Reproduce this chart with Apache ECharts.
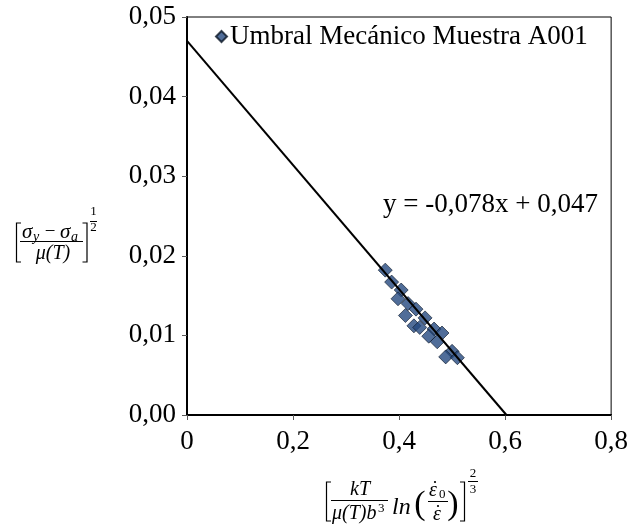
<!DOCTYPE html>
<html>
<head>
<meta charset="utf-8">
<script src="https://cdn.jsdelivr.net/npm/echarts@6/dist/echarts.min.js"></script>
<style>
  html, body { margin: 0; padding: 0; background: #fff; }
  #chart { width: 631px; height: 527px; }
</style>
</head>
<body>
<div id="chart"></div>
<script>
// Measured threshold points for sample A001
const xValues = [0.374, 0.386, 0.404, 0.398, 0.417, 0.432, 0.412, 0.449, 0.428,
                 0.439, 0.466, 0.481, 0.456, 0.472, 0.500, 0.488, 0.510];
const yValues = [0.0182, 0.0167, 0.0157, 0.0146, 0.0140, 0.0133, 0.0125, 0.0122, 0.0112,
                 0.0110, 0.0108, 0.0103, 0.0099, 0.0092, 0.0080, 0.0073, 0.0072];

// Linear fit y = slope * x + intercept
const slope = -0.078;
const intercept = 0.047;

const seriesName = 'Umbral Mecánico Muestra A001';
const xTicks = [0, 0.2, 0.4, 0.6, 0.8];
const yTicks = [0, 0.01, 0.02, 0.03, 0.04, 0.05];

const SERIF = '"Liberation Serif", "Times New Roman", serif';
const MATH = '"Liberation Serif", "DejaVu Serif", serif';

const points = xValues.map((x, i) => [x, yValues[i]]);
const fitLine = [[0, intercept], [-intercept / slope, 0]];

const fmtDec = (v, d) => v.toFixed(d).replace('.', ',');
const eqText = 'y = ' + fmtDec(slope, 3) + 'x + ' + fmtDec(intercept, 3);

// small helpers for the formula titles
function txt(x, y, s, size, italic, align) {
  return {
    type: 'text', x: x, y: y, silent: true,
    style: {
      text: s, fill: '#000', fontFamily: MATH, fontSize: size,
      fontStyle: italic ? 'italic' : 'normal',
      align: align || 'center', verticalAlign: 'middle'
    }
  };
}
function rule(x1, y, x2) {
  return { type: 'line', silent: true, shape: { x1: x1, y1: y, x2: x2, y2: y }, style: { stroke: '#000', lineWidth: 1 } };
}
function dot(x, y) {
  return { type: 'circle', silent: true, shape: { cx: x, cy: y, r: 1.1 }, style: { fill: '#000' } };
}
function bracket(xEdge, xInner, top, bottom) {
  return {
    type: 'polyline', silent: true,
    shape: { points: [[xInner, top], [xEdge, top], [xEdge, bottom], [xInner, bottom]] },
    style: { stroke: '#000', lineWidth: 1.2, fill: null }
  };
}

const yTitle = [
  bracket(16.5, 21, 223, 262),
  txt(22, 232, 'σ', 21, true, 'left'),
  txt(33, 237, 'y', 14, true, 'left'),
  txt(50, 232, '−', 19, false, 'center'),
  txt(60, 232, 'σ', 21, true, 'left'),
  txt(71, 237, 'a', 14, true, 'left'),
  rule(20, 241.5, 83),
  txt(53, 254, 'μ(T)', 20, true, 'center'),
  bracket(87, 82.5, 223, 262),
  txt(93.5, 212, '1', 13, false, 'center'),
  rule(90, 221.5, 97),
  txt(93.5, 228, '2', 13, false, 'center')
];

const xTitle = [
  bracket(326.5, 331, 482, 521),
  txt(360, 490, 'kT', 20, true, 'center'),
  rule(331, 500.5, 388),
  txt(332, 514, 'μ(T)b', 20, true, 'left'),
  txt(378, 509, '3', 13, false, 'left'),
  txt(392, 508, 'ln', 24, true, 'left'),
  txt(420, 505, '(', 34, false, 'center'),
  txt(429, 491, 'ε', 20, true, 'left'),
  dot(435, 482),
  txt(439, 495, '0', 13, false, 'left'),
  rule(428, 501.5, 448),
  txt(437, 515, 'ε', 20, true, 'center'),
  dot(438, 506),
  txt(453, 505, ')', 34, false, 'center'),
  bracket(464.5, 460, 482, 521),
  txt(473, 474, '2', 13, false, 'center'),
  rule(468, 481.5, 478),
  txt(473, 490, '3', 13, false, 'center')
];

const chart = echarts.init(document.getElementById('chart'), null, { renderer: 'canvas' });
chart.setOption({
  animation: false,
  backgroundColor: '#fff',
  grid: {
    left: 187, right: 19, top: 17, bottom: 112,
    show: true, borderColor: '#000', borderWidth: 1
  },
  legend: {
    data: [{ name: seriesName, icon: 'diamond' }],
    left: 215, top: 23, padding: 0,
    itemWidth: 11, itemHeight: 11, itemGap: 5,
    textStyle: { fontFamily: SERIF, fontSize: 27, color: '#000', padding: [0, 0, 0, -2] }
  },
  xAxis: {
    type: 'value', min: 0, max: 0.8, interval: 0.2,
    splitLine: { show: false },
    axisLine: { onZero: false, lineStyle: { color: '#000', width: 2 } },
    axisTick: { show: true, inside: false, length: 5, lineStyle: { color: '#595959', width: 1 } },
    axisLabel: {
      margin: 13, color: '#000', fontFamily: SERIF, fontSize: 27,
      customValues: xTicks,
      formatter: v => (v === 0 ? '0' : fmtDec(v, 1))
    }
  },
  yAxis: {
    type: 'value', min: 0, max: 0.05, interval: 0.01,
    splitLine: { show: false },
    axisLine: { onZero: false, lineStyle: { color: '#000', width: 2 } },
    axisTick: { show: true, inside: false, length: 5, lineStyle: { color: '#595959', width: 1 } },
    axisLabel: {
      margin: 11, color: '#000', fontFamily: SERIF, fontSize: 27,
      customValues: yTicks,
      formatter: v => fmtDec(v, 2)
    }
  },
  series: [
    {
      name: seriesName, type: 'scatter', data: points,
      symbol: 'diamond', symbolSize: 14,
      itemStyle: { color: '#24497F', borderColor: '#0b1626', borderWidth: 0.8 },
      z: 2
    },
    {
      name: 'ajuste', type: 'line', data: fitLine,
      symbol: 'none', silent: true,
      lineStyle: { color: '#000', width: 2 },
      z: 3
    }
  ],
  graphic: [
    {
      type: 'text', x: 383, y: 205, silent: true,
      style: { text: eqText, fill: '#000', fontFamily: SERIF, fontSize: 27, align: 'left', verticalAlign: 'middle' }
    },
    ...yTitle,
    ...xTitle
  ]
});
</script>
</body>
</html>
